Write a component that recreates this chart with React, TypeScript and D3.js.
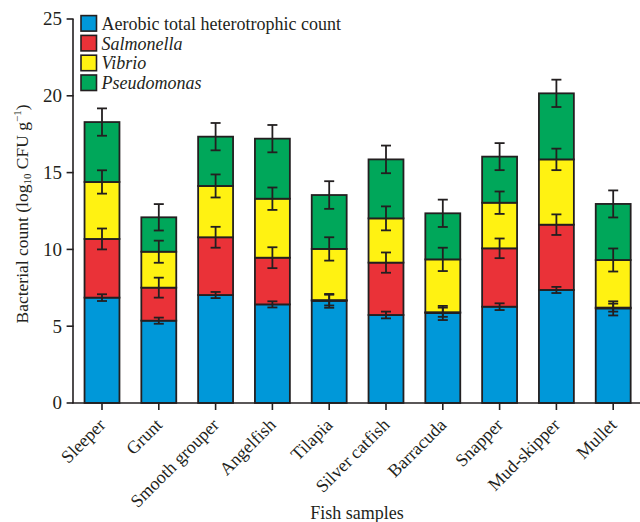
import { useMemo } from 'react'
import * as d3 from 'd3'

const categories = [
    'Sleeper',
    'Grunt',
    'Smooth grouper',
    'Angelfish',
    'Tilapia',
    'Silver catfish',
    'Barracuda',
    'Snapper',
    'Mud-skipper',
    'Mullet'
]

const seriesNames = ['Aerobic total heterotrophic count', 'Salmonella', 'Vibrio', 'Pseudomonas']
const seriesItalic = [false, true, true, true]
const seriesColors = ['#0098d9', '#ea3238', '#fff212', '#00a75a']

// segment heights (log10 CFU/g)
const aerobic = [6.86, 5.36, 7.03, 6.42, 6.65, 5.73, 5.86, 6.27, 7.36, 6.16]
const salmonella = [3.82, 2.15, 3.76, 3.04, 0.05, 3.41, 0.05, 3.8, 4.25, 0.05]
const vibrio = [3.71, 2.34, 3.34, 3.84, 3.33, 2.88, 3.44, 2.97, 4.25, 3.1]
const pseudomonas = [3.9, 2.24, 3.21, 3.91, 3.51, 3.84, 3.0, 3.0, 4.3, 3.65]

// standard deviations
const aerobicErr = [0.22, 0.2, 0.2, 0.2, 0.45, 0.22, 0.46, 0.22, 0.2, 0.46]
const salmonellaErr = [0.68, 0.65, 0.68, 0.68, 0.35, 0.66, 0.3, 0.64, 0.67, 0.26]
const vibrioErr = [0.76, 0.72, 0.75, 0.73, 0.76, 0.78, 0.76, 0.73, 0.7, 0.75]
const pseudomonasErr = [0.89, 0.86, 0.89, 0.89, 0.9, 0.9, 0.89, 0.88, 0.89, 0.88]

const yTicks = [0, 5, 10, 15, 20, 25]

const font = '"Liberation Serif", "Times New Roman", serif'
const ink = '#231f20'

const dims = { width: 640, height: 522, left: 73.6, right: 641.6, top: 19, bottom: 403 }

const ErrorBar = ({ x, y0, y1, cap = 5 }) => (
    <g stroke={ink} strokeWidth={1.8}>
        <line x1={x} x2={x} y1={y0} y2={y1} />
        <line x1={x - cap} x2={x + cap} y1={y0} y2={y0} />
        <line x1={x - cap} x2={x + cap} y1={y1} y2={y1} />
    </g>
)

export default function App() {
    const keys = ['a', 's', 'v', 'p']
    const rows = useMemo(
        () =>
            categories.map((c, i) => ({
                name: c,
                a: aerobic[i],
                s: salmonella[i],
                v: vibrio[i],
                p: pseudomonas[i]
            })),
        []
    )
    const errs = [aerobicErr, salmonellaErr, vibrioErr, pseudomonasErr]
    const stacked = d3.stack().keys(keys)(rows)

    const xScale = d3
        .scaleBand()
        .domain(categories)
        .range([dims.left, dims.right])
        .paddingInner(0.385)
        .paddingOuter(0.1925)
    const yScale = d3.scaleLinear().domain([0, 25]).range([dims.bottom, dims.top])
    const bw = xScale.bandwidth()

    return (
        <svg
            width={dims.width}
            height={dims.height}
            style={{ position: 'absolute', left: 0, top: 0, background: '#fff' }}
            fontFamily={font}
        >
            {/* bars */}
            {stacked.map((layer, li) => (
                <g key={layer.key}>
                    {layer.map((d, i) => (
                        <rect
                            key={categories[i]}
                            x={xScale(categories[i])}
                            y={yScale(d[1])}
                            width={bw}
                            height={yScale(d[0]) - yScale(d[1])}
                            fill={seriesColors[li]}
                            stroke={ink}
                            strokeWidth={1.8}
                        />
                    ))}
                </g>
            ))}
            {/* error bars */}
            {stacked.map((layer, li) => (
                <g key={'e' + layer.key}>
                    {layer.map((d, i) => {
                        const cx = xScale(categories[i]) + bw / 2
                        const e = errs[li][i]
                        return (
                            <ErrorBar
                                key={categories[i]}
                                x={cx}
                                y0={yScale(d[1] + e)}
                                y1={yScale(d[1] - e)}
                            />
                        )
                    })}
                </g>
            ))}

            {/* y axis */}
            <g stroke={ink} strokeWidth={1.6}>
                <line x1={dims.left - 0.6} x2={dims.left - 0.6} y1={yScale(25)} y2={yScale(0)} />
                {yTicks.map((t) => (
                    <line key={t} x1={dims.left - 7} x2={dims.left} y1={yScale(t)} y2={yScale(t)} />
                ))}
            </g>
            {yTicks.map((t) => (
                <text
                    key={t}
                    x={62}
                    y={yScale(t)}
                    dy="0.34em"
                    textAnchor="end"
                    fontSize={19}
                    fill={ink}
                >
                    {t}
                </text>
            ))}
            <text
                transform={`translate(28,${(dims.top + dims.bottom) / 2 + 3}) rotate(-90)`}
                textAnchor="middle"
                fontSize={17.5}
                fill={ink}
            >
                Bacterial count (log
                <tspan fontSize={11} dy={3}>
                    10
                </tspan>
                <tspan dy={-3}> CFU g</tspan>
                <tspan fontSize={11} dy={-7}>
                    −1
                </tspan>
                <tspan dy={7}>)</tspan>
            </text>

            {/* x axis */}
            <g stroke={ink} strokeWidth={1.6}>
                <line x1={dims.left - 1.4} x2={dims.width} y1={dims.bottom} y2={dims.bottom} />
                {categories.map((c) => (
                    <line
                        key={c}
                        x1={xScale(c) + bw / 2}
                        x2={xScale(c) + bw / 2}
                        y1={dims.bottom}
                        y2={dims.bottom + 7}
                    />
                ))}
            </g>
            {categories.map((c) => (
                <text
                    key={c}
                    transform={`translate(${xScale(c) + bw / 2 + 4.5},${dims.bottom + 23}) rotate(-45)`}
                    textAnchor="end"
                    fontSize={18}
                    fill={ink}
                >
                    {c}
                </text>
            ))}
            <text x={357} y={519} textAnchor="middle" fontSize={18} fill={ink}>
                Fish samples
            </text>

            {/* legend */}
            {seriesNames.map((s, i) => (
                <g key={s} transform={`translate(81,${15.6 + i * 19.8})`}>
                    <rect width={15.5} height={15.5} fill={seriesColors[i]} stroke={ink} strokeWidth={1.6} />
                    <text
                        x={20.5}
                        y={7.8}
                        dy="0.35em"
                        fontSize={18}
                        fontStyle={seriesItalic[i] ? 'italic' : 'normal'}
                        fill={ink}
                    >
                        {s}
                    </text>
                </g>
            ))}
        </svg>
    )
}
